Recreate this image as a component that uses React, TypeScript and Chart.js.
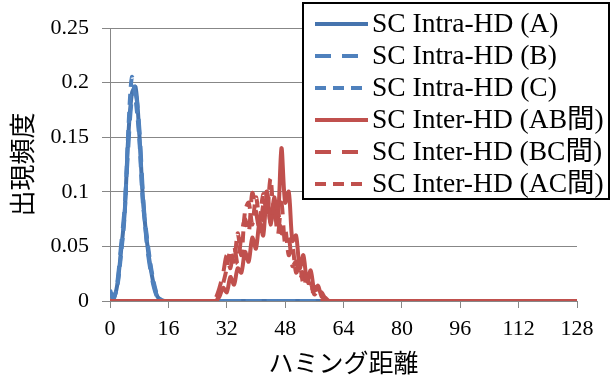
import React, { useEffect, useRef } from 'react';
import { Chart, registerables } from 'chart.js';

Chart.register(...registerables);

// Hamming distance positions (x values)
const intraHD = [0, 1, 2, 3, 4, 5, 6, 7, 8, 9, 10, 11, 12, 13, 14, 15, 128];
const interHD = [0, 28, 29, 30, 31, 32, 33, 34, 35, 36, 37, 38, 39, 40, 41, 42, 43, 44, 45, 46, 47, 48, 49, 50, 51, 52, 53, 54, 55, 56, 57, 58, 59, 60, 61, 128];

// Intra-HD frequencies
const intraA = [0.008, 0.003, 0.015, 0.045, 0.08, 0.15, 0.19, 0.196, 0.155, 0.095, 0.058, 0.033, 0.015, 0.004, 0.001, 0, 0];
const intraB = [0.01, 0.002, 0.017, 0.05, 0.085, 0.14, 0.185, 0.19, 0.16, 0.1, 0.055, 0.03, 0.013, 0.003, 0, 0, 0];
const intraC = [0.007, 0.004, 0.013, 0.042, 0.078, 0.155, 0.205, 0.185, 0.15, 0.09, 0.062, 0.036, 0.017, 0.005, 0.001, 0, 0];

// Inter-HD frequencies
const interAB = [0, 0, 0, 0.004, 0.012, 0.008, 0.022, 0.015, 0.03, 0.026, 0.045, 0.036, 0.058, 0.048, 0.072, 0.06, 0.1, 0.07, 0.095, 0.075, 0.14, 0.09, 0.1, 0.055, 0.06, 0.03, 0.042, 0.018, 0.028, 0.01, 0.014, 0.004, 0.003, 0, 0, 0];
const interBC = [0, 0, 0.003, 0.012, 0.025, 0.042, 0.03, 0.05, 0.034, 0.06, 0.075, 0.062, 0.099, 0.082, 0.066, 0.088, 0.1, 0.072, 0.086, 0.06, 0.09, 0.052, 0.058, 0.032, 0.036, 0.02, 0.026, 0.011, 0.016, 0.006, 0.009, 0.002, 0, 0, 0, 0];
const interAC = [0, 0, 0, 0.006, 0.016, 0.03, 0.046, 0.036, 0.062, 0.042, 0.082, 0.09, 0.07, 0.095, 0.076, 0.098, 0.08, 0.112, 0.076, 0.082, 0.062, 0.066, 0.042, 0.05, 0.026, 0.032, 0.016, 0.022, 0.009, 0.013, 0.005, 0.008, 0.002, 0.001, 0, 0];

const seriesLabels = [
  'SC Intra-HD (A)',
  'SC Intra-HD (B)',
  'SC Intra-HD (C)',
  'SC Inter-HD (AB間)',
  'SC Inter-HD (BC間)',
  'SC Inter-HD (AC間)',
];

const xTicks = [0, 16, 32, 48, 64, 80, 96, 112, 128];
const yTicks = [0, 0.05, 0.1, 0.15, 0.2, 0.25];

const BLUE_DARK = '#4674AE';
const BLUE = '#4F81BD';
const RED = '#C0504D';
const GRID = '#878787';

const toPoints = (xs: number[], ys: number[]) => xs.map((x, i) => ({ x, y: ys[i] }));

const boxLegend = {
  id: 'boxLegend',
  afterDraw(chart: any) {
    const ctx = chart.ctx as CanvasRenderingContext2D;
    const left = 303, top = 3, right = 609, bottom = 199;
    ctx.save();
    ctx.fillStyle = '#ffffff';
    ctx.fillRect(left, top, right - left, bottom - top);
    ctx.lineWidth = 2;
    ctx.strokeStyle = '#000000';
    ctx.strokeRect(left, top, right - left, bottom - top);
    const rowY0 = 24, rowStep = 32;
    chart.data.datasets.forEach((ds: any, i: number) => {
      const y = rowY0 + i * rowStep;
      ctx.beginPath();
      ctx.setLineDash(ds.legendDash || []);
      ctx.strokeStyle = ds.borderColor;
      ctx.lineWidth = 4;
      ctx.moveTo(315, y);
      ctx.lineTo(368, y);
      ctx.stroke();
      ctx.setLineDash([]);
      ctx.fillStyle = '#000000';
      ctx.font = '27.5px "Liberation Serif", "Noto Sans CJK JP"';
      ctx.textBaseline = 'middle';
      ctx.textAlign = 'left';
      ctx.fillText(ds.label, 372, y + 1);
    });
    ctx.restore();
  },
};

export default function App() {
  const ref = useRef<HTMLCanvasElement>(null);

  useEffect(() => {
    const mk = (label: string, xs: number[], ys: number[], color: string, dash: number[], order: number) => ({
      label,
      data: toPoints(xs, ys),
      borderColor: color,
      backgroundColor: color,
      borderWidth: 4,
      borderDash: dash,
      legendDash: dash,
      pointRadius: 0,
      tension: 0.3,
      fill: false,
      order,
    });
    const chart = new Chart(ref.current!, {
      type: 'line',
      data: {
        datasets: [
          mk(seriesLabels[0], intraHD, intraA, BLUE_DARK, [], 5),
          mk(seriesLabels[1], intraHD, intraB, BLUE, [16, 11], 4),
          mk(seriesLabels[2], intraHD, intraC, BLUE, [11, 7], 3),
          mk(seriesLabels[3], interHD, interAB, RED, [], 2),
          mk(seriesLabels[4], interHD, interBC, RED, [16, 11], 1),
          mk(seriesLabels[5], interHD, interAC, RED, [11, 7], 0),
        ] as any,
      },
      options: {
        animation: false,
        responsive: false,
        layout: { padding: { top: 28, right: 34, bottom: 0, left: 0 } },
        plugins: { legend: { display: false }, tooltip: { enabled: false } },
        scales: {
          x: {
            type: 'linear',
            min: 0,
            max: 128,
            afterBuildTicks: (scale: any) => {
              scale.ticks = xTicks.map((v) => ({ value: v }));
            },
            afterFit: (scale: any) => {
              scale.height = 81;
            },
            ticks: {
              font: { family: '"Liberation Serif"', size: 22 },
              color: '#000000',
              padding: 8,
              maxRotation: 0,
              autoSkip: false,
            },
            grid: { drawOnChartArea: false, drawTicks: true, tickLength: 7, color: GRID, lineWidth: 1 },
            border: { display: true, color: GRID, width: 1 },
            title: {
              display: true,
              text: 'ハミング距離',
              font: { family: '"Noto Sans CJK JP"', size: 25 },
              color: '#000000',
              padding: { top: 0, bottom: 5 },
            },
          },
          y: {
            type: 'linear',
            min: 0,
            max: 0.25,
            afterBuildTicks: (scale: any) => {
              scale.ticks = yTicks.map((v) => ({ value: v }));
            },
            afterFit: (scale: any) => {
              scale.width = 110;
            },
            ticks: {
              font: { family: '"Liberation Serif"', size: 22 },
              color: '#000000',
              padding: 13,
              callback: (v: any) => String(Number(Number(v).toFixed(2))),
            },
            grid: { drawTicks: true, tickLength: 8, color: GRID, lineWidth: 1 },
            border: { display: true, color: GRID, width: 1 },
            title: {
              display: true,
              text: '出現頻度',
              font: { family: '"Noto Sans CJK JP"', size: 26 },
              color: '#000000',
              padding: { top: 7, bottom: 0 },
            },
          },
        },
      },
      plugins: [boxLegend],
    });
    return () => chart.destroy();
  }, []);

  return (
    <div style={{ position: 'fixed', left: 0, top: 0, width: 611, height: 382, background: '#ffffff' }}>
      <canvas ref={ref} width={611} height={382} style={{ display: 'block', width: 611, height: 382 }} />
    </div>
  );
}
